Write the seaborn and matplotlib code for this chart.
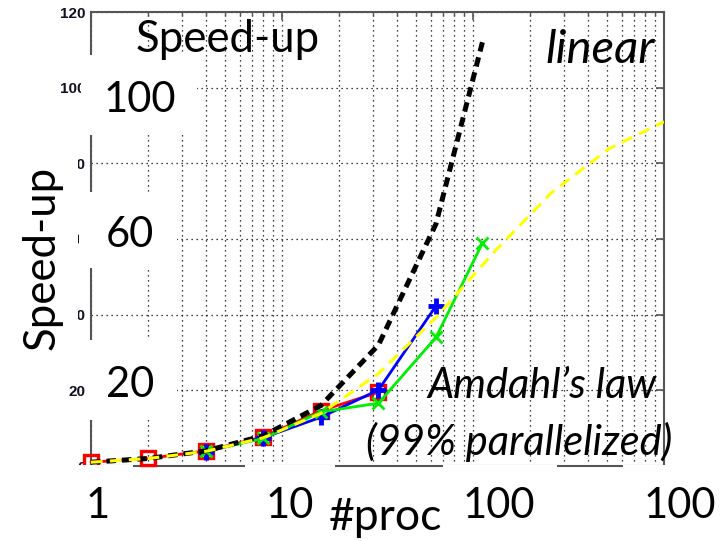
import matplotlib
matplotlib.use("Agg")
import matplotlib.pyplot as plt
from matplotlib.patches import Rectangle
from matplotlib.ticker import LogLocator, NullFormatter
import seaborn as sns

# measured speed-up per processor count
procs_red = [1, 2, 4, 8, 16, 32]
speedup_red = [1.0, 2.0, 4.0, 7.7, 14.6, 19.5]

procs_blue = [4, 8, 16, 32, 64]
speedup_blue = [3.8, 7.5, 12.9, 20.1, 42.3]

procs_green = [4, 8, 16, 32, 64, 112]
speedup_green = [3.9, 7.3, 14.3, 16.6, 34.0, 58.9]

# ideal (linear) speed-up
procs_linear = [1, 2, 4, 8, 16, 32, 64, 112]
speedup_linear = [1, 2, 4, 8, 16, 32, 64, 112]

# Amdahl's law with a 99% parallel fraction
procs_amdahl = [1, 2, 4, 8, 16, 32, 64, 128, 256, 512, 1000]
speedup_amdahl = [1.0, 1.98, 3.88, 7.48, 13.91, 24.43, 39.26, 56.39, 72.11, 83.78, 90.99]

y_ticks = [0, 20, 40, 60, 80, 100, 120]
y_tick_labels = ["0", "20", "40", "60", "80", "100", "120"]

# large overlay labels
big_y_labels = ["100", "60", "20"]
big_x_labels = ["1", "10", "100", "100"]

sns.set_style("white")

W, H = 720, 541
fig = plt.figure(figsize=(W / 100, H / 100), dpi=100)


def fx(x):
    return x / W


def fy(y):
    return 1 - y / H


ax = fig.add_axes([fx(91), fy(466), fx(664) - fx(91), fy(12) - fy(466)])

sns.lineplot(x=procs_red, y=speedup_red, ax=ax, color="#ff0000", lw=2,
             marker="s", markersize=10, mfc="none", mec="#ff0000", mew=2.4,
             clip_on=False, zorder=3)
sns.lineplot(x=procs_blue, y=speedup_blue, ax=ax, color="#0000ff", lw=2,
             zorder=4)
ax.plot(procs_blue, speedup_blue, ls="none", marker="+", markersize=11,
        mew=3.5, color="#0000ff", zorder=4)
sns.lineplot(x=procs_green, y=speedup_green, ax=ax, color="#00ee00", lw=2,
             marker="x", markersize=8, mew=2, mec="#00ee00", zorder=5)
sns.lineplot(x=procs_linear, y=speedup_linear, ax=ax, color="black", lw=3.6,
             linestyle=(0, (1.9, 1.2)), zorder=6)
sns.lineplot(x=procs_amdahl, y=speedup_amdahl, ax=ax, color="#ffff00", lw=2.2,
             linestyle=(0, (3.8, 2.4)), zorder=7)

ax.set_xscale("log")
ax.set_xlim(1, 1000)
ax.set_ylim(0, 120)
ax.xaxis.set_major_locator(LogLocator(base=10, numticks=10))
ax.xaxis.set_minor_locator(LogLocator(base=10, subs=range(2, 10), numticks=20))
ax.xaxis.set_major_formatter(NullFormatter())
ax.xaxis.set_minor_formatter(NullFormatter())
ax.set_yticks(y_ticks)
ax.set_yticklabels(y_tick_labels, fontsize=11, fontweight="bold",
                   family="Liberation Sans", color="#111122")
ax.set_xlabel("")
ax.set_ylabel("")

ax.tick_params(which="major", direction="in", top=True, right=True,
               length=6, width=1.2, color="#555555", pad=4)
ax.tick_params(which="minor", direction="in", top=True, right=True,
               length=3, width=1.0, color="#555555")
grid_kw = dict(color="black", lw=0.9, linestyle=(0, (1, 3)))
ax.grid(True, which="both", axis="x", **grid_kw)
ax.grid(True, which="major", axis="y", **grid_kw)
for s in ax.spines.values():
    s.set_color("#555555")
    s.set_linewidth(1.5)

# white panels behind the large labels
panels = [
    (81, 55, 197, 135),     # "100"
    (79, 192, 177, 268),    # "60"
    (88, 340, 177, 420),    # "20"
    (8, 130, 78, 378),      # rotated "Speed-up"
    (40, 465, 133, 541),    # "1"
    (245, 465, 335, 541),   # "10"
    (443, 465, 557, 541),   # "100"
    (623, 465, 720, 541),   # right-hand "100"
]
for x0, y0, x1, y1 in panels:
    fig.add_artist(Rectangle((fx(x0), fy(y1)), fx(x1) - fx(x0), fy(y0) - fy(y1),
                             transform=fig.transFigure, facecolor="white",
                             edgecolor="none", zorder=10))

big = dict(family="Lato", fontsize=30, color="black", va="baseline", zorder=11)
ital = dict(big, style="italic")

fig.text(fx(136), fy(52), "Speed-up", ha="left", **dict(big, fontsize=31.5))
fig.text(fx(42), fy(258), "Speed-up", ha="center", rotation=90,
         rotation_mode="anchor", **dict(big, va="center", fontsize=31.5))

for label, y in zip(big_y_labels, [112, 247, 397]):
    fig.text(fx(104 if label == "100" else 106), fy(y), label, ha="left", **big)

for label, x in zip(big_x_labels, [98, 290, 499, 680]):
    fig.text(fx(x), fy(518), label, ha="center", **big)

fig.text(fx(385), fy(530), "#proc", ha="center", **dict(big, fontsize=32))

fig.text(fx(655), fy(63), "linear", ha="right", **dict(ital, fontsize=34))
fig.text(fx(657), fy(398), "Amdahl\u2019s law", ha="right", **ital)
fig.text(fx(672), fy(455), "(99% parallelized)", ha="right", **ital)

fig.savefig("out.png", dpi=100)
